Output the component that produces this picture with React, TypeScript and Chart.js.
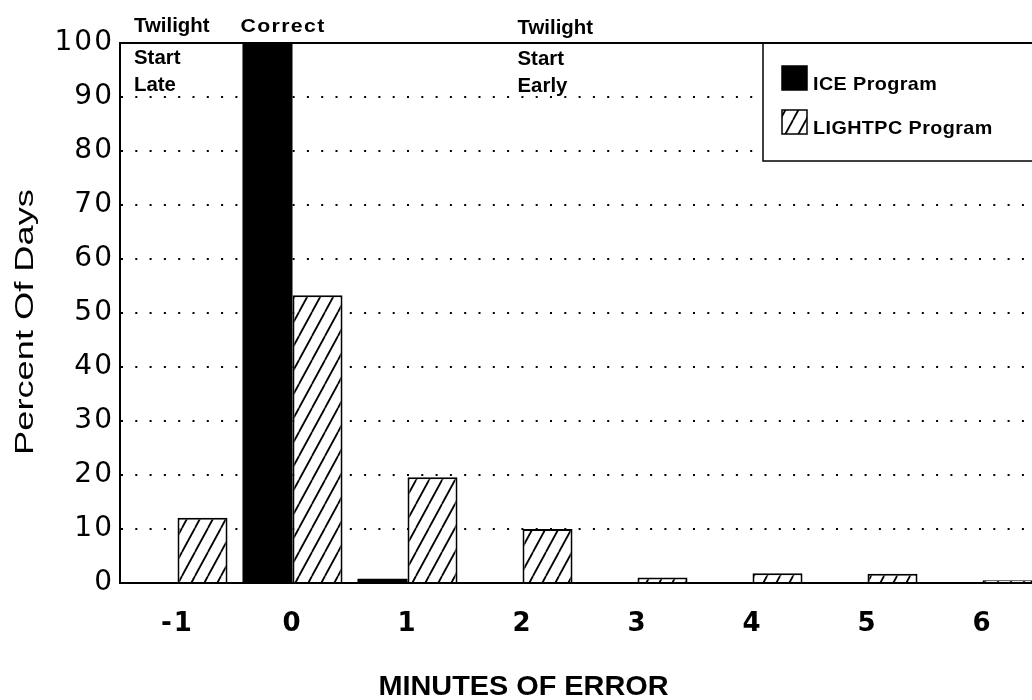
import React, { useEffect, useRef } from "react";
import { Chart, registerables } from "chart.js";

Chart.register(...registerables);

// ---- data ----
const categories = ["-1", "0", "1", "2", "3", "4", "5", "6"];
const iceValues = [0, 100, 0.8, 0, 0, 0, 0, 0];
const lightpcValues = [12.1, 53.3, 19.6, 10, 1.0, 1.8, 1.7, 0.5];
const seriesNames = ["ICE Program", "LIGHTPC Program"];
const yMin = 0;
const yMax = 100;
const yStep = 10;
const xTitle = "MINUTES OF ERROR";
const yTitle = "Percent Of Days";
const leftNote = ["Twilight", "Start", "Late"];
const centerNote = "Correct";
const rightNote = ["Twilight", "Start", "Early"];

function makeHatch(ctx: CanvasRenderingContext2D): CanvasPattern | string {
  const w = 13;
  const h = 24;
  const c = document.createElement("canvas");
  c.width = w;
  c.height = h;
  const g = c.getContext("2d");
  if (!g) return "#fff";
  g.fillStyle = "#fff";
  g.fillRect(0, 0, w, h);
  g.strokeStyle = "#000";
  g.lineWidth = 1.8;
  for (const off of [-w, 0, w]) {
    g.beginPath();
    g.moveTo(off, h);
    g.lineTo(off + w, 0);
    g.stroke();
  }
  return ctx.createPattern(c, "repeat") || "#fff";
}

function drawText(
  ctx: CanvasRenderingContext2D,
  text: string,
  x: number,
  y: number,
  font: string,
  sx = 1,
  align: CanvasTextAlign = "left",
  spacing = "0px"
) {
  ctx.save();
  ctx.translate(x, y);
  ctx.scale(sx, 1);
  ctx.font = font;
  (ctx as any).letterSpacing = spacing;
  ctx.textAlign = align;
  ctx.textBaseline = "alphabetic";
  ctx.fillStyle = "#000";
  ctx.fillText(text, 0, 0);
  ctx.restore();
}

export default function App() {
  const ref = useRef<HTMLCanvasElement | null>(null);

  useEffect(() => {
    const canvas = ref.current;
    if (!canvas) return;
    const ctx0 = canvas.getContext("2d");
    if (!ctx0) return;
    const hatch = makeHatch(ctx0);

    const decor = {
      id: "decor",
      beforeDraw(chart: any) {
        chart.ctx.letterSpacing = "2px";
      },
      beforeDatasetsDraw(chart: any) {
        chart.ctx.letterSpacing = "0px";
      },
      afterDraw(chart: any) {
        const ctx: CanvasRenderingContext2D = chart.ctx;
        const a = chart.chartArea;
        const x = chart.scales.x;
        ctx.save();
        (ctx as any).letterSpacing = "0px";

        // legend box
        const lx = 763;
        const lb = 161;
        ctx.fillStyle = "#fff";
        ctx.fillRect(lx, a.top, a.right - lx + 5, lb - a.top);
        ctx.strokeStyle = "#000";
        ctx.lineWidth = 1.5;
        ctx.strokeRect(lx, a.top, a.right - lx + 10, lb - a.top);

        // top border
        ctx.lineWidth = 2;
        ctx.beginPath();
        ctx.moveTo(a.left - 1, a.top);
        ctx.lineTo(a.right, a.top);
        ctx.stroke();

        // legend items
        chart.data.datasets.forEach((ds: any, i: number) => {
          const sx = 782;
          const sy = 66 + i * 44;
          ctx.fillStyle = ds.backgroundColor;
          ctx.fillRect(sx, sy, 25, 24);
          ctx.strokeStyle = "#000";
          ctx.lineWidth = 1.5;
          ctx.strokeRect(sx, sy, 25, 24);
          drawText(ctx, ds.label, 813, sy + 24, "bold 19px 'Liberation Sans'", 1.04, "left", "0.4px");
        });

        // annotations
        const bold = "bold 20px 'Liberation Sans'";
        const lx0 = a.left + 14;
        const baselines = [32, 64, 91];
        leftNote.forEach((t, i) => drawText(ctx, t, lx0, baselines[i], bold, 1.02, "left", "0px"));
        drawText(ctx, centerNote, x.getPixelForValue(1) - 52, 32, "bold 19px 'Liberation Sans'", 1.12, "left", "1.2px");
        const rx0 = x.getPixelForValue(3) - 5;
        const rb = [34, 65, 92];
        rightNote.forEach((t, i) => drawText(ctx, t, rx0, rb[i], bold, 1.02, "left", "0px"));

        // x title
        drawText(ctx, xTitle, x.getPixelForValue(3) + 1, 695, "bold 28px 'Liberation Sans'", 1.03, "center");

        // y title (rotated)
        ctx.save();
        ctx.translate(33, (a.top + a.bottom) / 2 + 9);
        ctx.rotate(-Math.PI / 2);
        ctx.scale(1.45, 1);
        ctx.font = "25px 'Liberation Sans'";
        ctx.textAlign = "center";
        ctx.textBaseline = "alphabetic";
        ctx.fillStyle = "#000";
        ctx.fillText(yTitle, 0, 0);
        ctx.restore();

        ctx.restore();
      },
    };

    const chart = new Chart(canvas, {
      type: "bar",
      data: {
        labels: categories,
        datasets: [
          {
            label: seriesNames[0],
            data: iceValues,
            backgroundColor: "#000",
            borderColor: "#000",
            borderWidth: 0,
            categoryPercentage: 0.87,
            barPercentage: 1.0,
          },
          {
            label: seriesNames[1],
            data: lightpcValues,
            backgroundColor: hatch as any,
            borderColor: "#000",
            borderWidth: 2,
            categoryPercentage: 0.87,
            barPercentage: 1.0,
          },
        ],
      },
      options: {
        responsive: false,
        animation: false,
        layout: { padding: { top: 43, left: 0, right: 0, bottom: 0 } },
        plugins: {
          legend: { display: false },
          tooltip: { enabled: false },
          title: { display: false },
        },
        scales: {
          x: {
            type: "category",
            offset: true,
            grid: { display: false, drawTicks: false },
            border: { display: true, color: "#000", width: 2 },
            ticks: {
              color: "#000",
              padding: 26,
              font: { family: "'DejaVu Sans'", size: 26, weight: "bold" },
              maxRotation: 0,
              autoSkip: false,
            },
            afterFit: (s: any) => {
              s.height = 117;
            },
          },
          y: {
            min: yMin,
            max: yMax,
            grid: {
              color: (c: any) =>
                c.tick && (c.tick.value === yMin || c.tick.value === yMax) ? "rgba(0,0,0,0)" : "#000",
              lineWidth: 2,
              drawTicks: false,
            },
            border: { display: true, color: "#000", width: 2, dash: [2, 12.3] },
            ticks: {
              stepSize: yStep,
              color: "#000",
              padding: 6,
              font: { family: "'DejaVu Sans'", size: 28 },
            },
            afterFit: (s: any) => {
              s.width = 120;
            },
          },
        },
      },
      plugins: [decor],
    });

    return () => chart.destroy();
  }, []);

  return (
    <div
      style={{
        position: "fixed",
        left: 0,
        top: 0,
        width: 1032,
        height: 700,
        overflow: "hidden",
        background: "#fff",
      }}
    >
      <canvas ref={ref} width={1040} height={700} style={{ display: "block" }} />
    </div>
  );
}
